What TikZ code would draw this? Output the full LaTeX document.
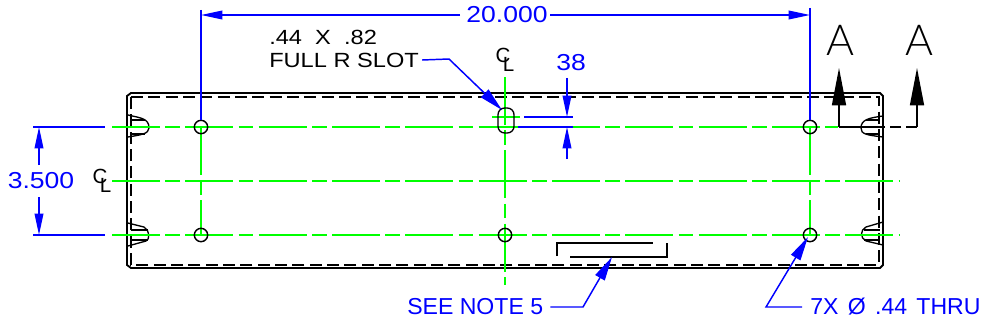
\documentclass[tikz,border=0pt]{standalone}
\usepackage{fontspec}
\setmainfont{Liberation Sans}
\newfontfamily\widefont[FakeStretch=1.15]{Liberation Sans}
\newfontfamily\thinfont{Lato Light}
\usetikzlibrary{arrows.meta}
\newcommand{\clmark}{\rlap{C}\raisebox{-.42em}{\hspace{.36em}L}}
\begin{document}
\begin{tikzpicture}[
            x=0.75pt, y=-0.75pt,
            plateline/.style={draw=black, line width=1.4pt},
            hiddenline/.style={draw=black, line width=1.1pt, dash pattern=on 9pt off 4pt},
            thinline/.style={draw=black, line width=1pt},
            centerline/.style={draw=green, line width=1.1pt, dash pattern=on 36pt off 4pt on 11pt off 4pt},
            dimline/.style={draw=blue, line width=1.1pt},
            dimtip/.style={dimline, -{Triangle[length=16pt, width=6.5pt]}},
            leadertip/.style={dimline, -{Triangle[length=18pt, width=8pt]}},
            sectiontip/.style={draw=black, line width=1.1pt, -{Triangle[length=28pt, width=10.5pt]}},
            dimtext/.style={text=blue, font=\widefont\fontsize{17.3}{19}\selectfont, inner sep=0pt},
            leadertext/.style={text=blue, font=\fontsize{17.3}{19}\selectfont, inner sep=0pt},
            notetext/.style={text=black, font=\widefont\fontsize{15.4}{17}\selectfont, inner sep=0pt},
            sectiontext/.style={text=black, font=\thinfont\fontsize{32}{34}\selectfont, inner sep=0pt}
        ]
        \useasboundingbox (0, 0) rectangle (984, 328);

        % plate
        \draw[plateline] (131, 93) -- (880, 93) -- (883, 96) -- (883, 265) -- (880, 268) -- (131, 268) -- (127, 265) -- (127, 96) -- cycle;
        \draw[hiddenline] (131, 97) -- (879, 97) -- (879, 265) -- (131, 265) -- cycle;

        % end slots
        \draw[thinline] (128, 115) .. controls (140, 118) and (149, 118) .. (149, 128) .. controls (149, 134) and (140, 135) .. (128, 137);
        \draw[thinline] (131, 120) -- (145, 120);
        \draw[thinline] (131, 134) -- (145, 134);
        \draw[thinline] (128, 223) -- (144, 227) .. controls (150, 230) and (150, 240) .. (146, 241) -- (128, 246);
        \draw[thinline] (131, 230) -- (148, 230);
        \draw[thinline] (131, 240) -- (148, 240);
        \draw[thinline] (883, 116) .. controls (868, 118) and (861, 120) .. (861, 128) .. controls (861, 134) and (866, 135) .. (883, 137);
        \draw[thinline] (866, 120) -- (880, 120);
        \draw[thinline] (866, 134) -- (880, 134);
        \draw[thinline] (883, 222) -- (866, 227) .. controls (860, 230) and (860, 238) .. (866, 241) -- (883, 245);
        \draw[thinline] (864, 230) -- (880, 230);
        \draw[thinline] (864, 240) -- (880, 240);

        % center lines
        \draw[centerline] (112, 127) -- (838, 127);
        \draw[centerline] (112, 181) -- (900, 181);
        \draw[centerline] (112, 235) -- (900, 235);
        \draw[centerline] (201, 127) -- (201, 235);
        \draw[centerline] (810, 127) -- (810, 235);
        \draw[centerline] (505, 77) -- (505, 285);
        \draw[draw=green, line width=1.1pt] (492, 117) -- (520, 117);

        % holes
        \foreach \holex/\holey/\holename in {201/127/ha, 505/235/hb, 810/127/hc, 201/235/hd, 810/235/he} {
            \node[draw=black, line width=1.1pt, circle, minimum size=10pt, inner sep=0pt] (\holename) at (\holex, \holey) {};
        }
        \draw[thinline, rounded corners=5pt] (498, 108) rectangle (514, 133);

        % bracket
        \draw[thinline] (557, 256) -- (557, 243) -- (653, 243);
        \draw[thinline] (667, 243) -- (667, 257) -- (570, 257);

        % 20.000
        \coordinate (ela) at (201, 10);
        \coordinate (elb) at (810, 8);
        \node[dimtext] (width) at (507, 15) {20.000};
        \draw[dimline] (ela) -- (ha);
        \draw[dimline] (elb) -- (hc);
        \draw[dimtip] (width) ++(-47, 0) -- (201, 15);
        \draw[dimtip] (width) ++(43, 0) -- (810, 15);

        % 3.500
        \node[dimtext] (height) at (41, 181) {3.500};
        \coordinate (elc) at (33, 127);
        \coordinate (eld) at (105, 127);
        \coordinate (ele) at (33, 235);
        \coordinate (elf) at (105, 235);
        \draw[dimline] (elc) -- (eld);
        \draw[dimline] (ele) -- (elf);
        \draw[dimtip] (39, 165) -- (39, 127);
        \draw[dimtip] (39, 197) -- (39, 235);

        % 38
        \node[dimtext] (slotdim) at (571, 63) {38};
        \coordinate (elg) at (524, 117);
        \coordinate (elh) at (573, 117);
        \coordinate (eli) at (518, 127);
        \coordinate (elj) at (573, 127);
        \draw[dimline] (elg) -- (elh);
        \draw[dimline] (eli) -- (elj);
        \draw[dimtip] (567, 78) -- (567, 117);
        \draw[dimtip] (567, 159) -- (567, 127);

        % leaders
        \node[notetext, anchor=west] (size) at (269, 37) {.44\ \ X\ \ .82};
        \node[notetext, anchor=west] (slot) at (269, 60) {FULL R SLOT};
        \node[leadertext, anchor=west] (note) at (407, 307) {SEE NOTE 5};
        \node[leadertext, anchor=west] (thru) at (810, 307) {7X\hspace{7pt}Ø\hspace{7pt}.44\hspace{7pt}THRU};
        \coordinate (slottip) at (502, 110);
        \coordinate (bracket) at (612, 257);
        \coordinate (holetip) at (808, 237);
        \draw[leadertip] (slot.east) ++(3, 0) -- (449, 59) -- (slottip);
        \draw[leadertip] (note.east) ++(7, 0) -- (583, 307) -- (bracket);
        \draw[leadertip] (802, 307) -- (766, 307) -- (holetip);

        % section marks
        \node[sectiontext] (seca) at (840, 40) {A};
        \node[sectiontext] (secb) at (919, 40) {A};
        \coordinate (cuta) at (839, 127);
        \coordinate (cutb) at (883, 127);
        \coordinate (cutc) at (917, 127);
        \draw[sectiontip] (cuta) -- (839, 68);
        \draw[sectiontip] (cutc) -- (917, 68);
        \draw[draw=black, line width=1.1pt] (cuta) -- (cutb);
        \draw[draw=black, line width=1.1pt, dash pattern=on 8pt off 4pt] (cutc) -- (cutb);

        % center marks
        \node[notetext, font=\fontsize{15.4}{17}\selectfont] (cla) at (505, 60) {\clmark};
        \node[notetext, font=\fontsize{15.4}{17}\selectfont] (clb) at (102, 181) {\clmark};
\end{tikzpicture}
\end{document}
